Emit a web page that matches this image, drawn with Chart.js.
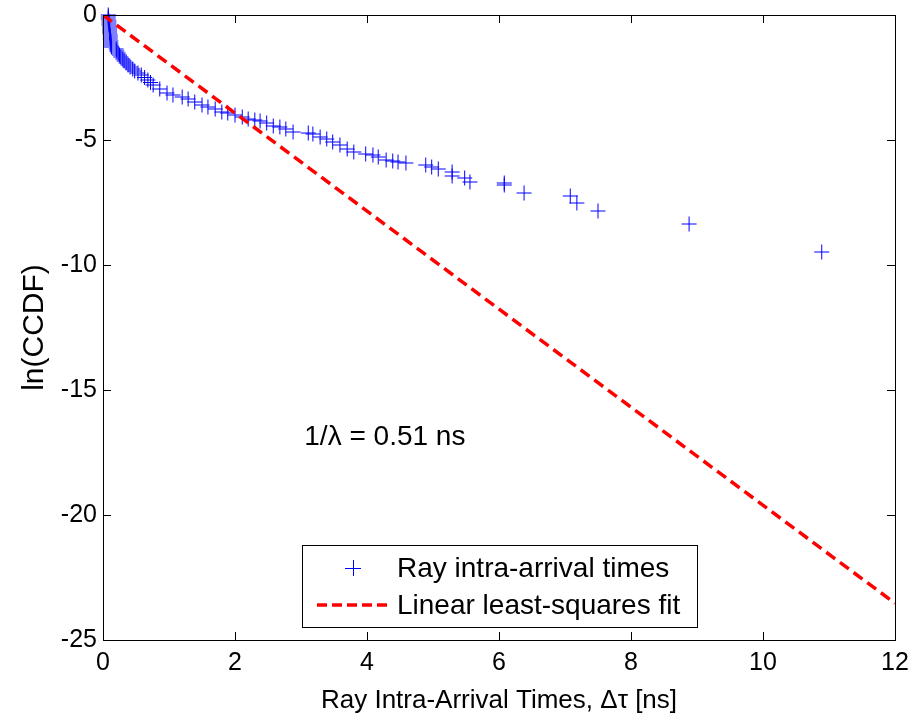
<!DOCTYPE html>
<html>
<head>
<meta charset="utf-8">
<script src="https://cdn.jsdelivr.net/npm/chart.js@4.4.1/dist/chart.umd.min.js"></script>
<style>
  html, body { margin: 0; padding: 0; background: #fff; }
  #wrap { width: 912px; height: 720px; }
</style>
</head>
<body>
<div id="wrap"><canvas id="chart" width="912" height="720"></canvas></div>
<script>
// ray intra-arrival times [ns] and ln(CCDF)
const rayTimes = [
  0.08, 0.08, 0.08, 0.09, 0.09, 0.09, 0.10, 0.10, 0.10, 0.10, 0.11, 0.11, 0.11, 0.12, 0.12, 0.12, 0.13,
  0.20, 0.21, 0.23, 0.25, 0.27, 0.30, 0.32, 0.35, 0.38, 0.41, 0.45, 0.48, 0.53, 0.58, 0.63, 0.68, 0.72,
  0.76, 0.86, 0.97, 1.06, 1.20, 1.29, 1.39, 1.50, 1.59, 1.70, 1.80, 1.89, 2.00, 2.11, 2.20, 2.30,
  2.38, 2.48, 2.58, 2.68, 2.77, 2.88, 3.11, 3.18, 3.29, 3.39, 3.48, 3.59, 3.70, 3.80, 3.98,
  4.09, 4.17, 4.29, 4.39, 4.47, 4.59, 4.89, 4.98, 5.08, 5.29, 5.29, 5.48, 5.56, 6.08, 6.08,
  6.38, 7.08, 7.18, 7.50, 8.88, 10.89
];
const rayLnCcdf = [
  0, -0.08, -0.16, -0.24, -0.32, -0.40, -0.48, -0.56, -0.64, -0.72, -0.80, -0.88, -0.96, -1.04, -1.12, -1.20, -1.28,
  -1.36, -1.44, -1.52, -1.60, -1.68, -1.76, -1.84, -1.92, -2.00, -2.08, -2.16, -2.24, -2.32, -2.40, -2.50, -2.60, -2.70,
  -2.80, -2.96, -3.12, -3.20, -3.28, -3.36, -3.48, -3.60, -3.68, -3.76, -3.88, -3.92, -4.00, -4.08, -4.16, -4.20,
  -4.24, -4.32, -4.44, -4.48, -4.56, -4.68, -4.72, -4.76, -4.88, -4.96, -5.08, -5.20, -5.36, -5.48, -5.56,
  -5.60, -5.68, -5.80, -5.84, -5.88, -5.92, -6.00, -6.08, -6.16, -6.28, -6.44, -6.52, -6.68, -6.72, -6.80,
  -7.12, -7.24, -7.52, -7.84, -8.36, -9.48
];

// linear least-squares fit, 1/lambda = 0.51 ns
const fitTimes = [0, 12];
const fitLnCcdf = [0, -23.53];

const xTicks = [0, 2, 4, 6, 8, 10, 12];
const yTicks = [-25, -20, -15, -10, -5, 0];

const seriesLabels = ["Ray intra-arrival times", "Linear least-squares fit"];
const noteText = "1/\u03bb = 0.51 ns";
const noteAt = { x: 3.05, y: -16.9 };

const tickFont = { family: '"Liberation Sans", Arial', size: 25 };

const frameAndTicks = {
  id: "frameAndTicks",
  afterDraw(chart) {
    const { ctx, chartArea: a, scales } = chart;
    ctx.save();
    ctx.strokeStyle = "#000";
    ctx.lineWidth = 1;
    ctx.strokeRect(Math.round(a.left) + 0.5, Math.round(a.top) + 0.5,
      Math.round(a.right - a.left), Math.round(a.bottom - a.top));
    const len = 8;
    ctx.beginPath();
    scales.x.ticks.forEach((t) => {
      const p = Math.round(scales.x.getPixelForValue(t.value)) + 0.5;
      ctx.moveTo(p, a.bottom); ctx.lineTo(p, a.bottom - len);
      ctx.moveTo(p, a.top); ctx.lineTo(p, a.top + len);
    });
    scales.y.ticks.forEach((t) => {
      const p = Math.round(scales.y.getPixelForValue(t.value)) + 0.5;
      ctx.moveTo(a.left, p); ctx.lineTo(a.left + len, p);
      ctx.moveTo(a.right, p); ctx.lineTo(a.right - len, p);
    });
    ctx.stroke();

    // text note
    ctx.fillStyle = "#000";
    ctx.font = '28px "Liberation Sans", Arial';
    ctx.textBaseline = "middle";
    ctx.textAlign = "left";
    ctx.fillText(noteText, scales.x.getPixelForValue(noteAt.x), scales.y.getPixelForValue(noteAt.y));

    // legend box
    const bx = 302, by = 545, bw = 395, bh = 82;
    ctx.fillStyle = "#fff";
    ctx.fillRect(bx, by, bw, bh);
    ctx.strokeStyle = "#000";
    ctx.strokeRect(bx + 0.5, by + 0.5, bw, bh);
    const row1 = by + 23, row2 = by + 60;
    ctx.strokeStyle = "#0000ff";
    ctx.lineWidth = 1;
    ctx.beginPath();
    ctx.moveTo(345, row1 + 0.5); ctx.lineTo(361, row1 + 0.5);
    ctx.moveTo(353.5, row1 - 8); ctx.lineTo(353.5, row1 + 8);
    ctx.stroke();
    ctx.strokeStyle = "#ff0000";
    ctx.lineWidth = 3.5;
    ctx.setLineDash([10, 5]);
    ctx.beginPath();
    ctx.moveTo(317, row2); ctx.lineTo(387, row2);
    ctx.stroke();
    ctx.setLineDash([]);
    ctx.fillStyle = "#000";
    ctx.font = '28px "Liberation Sans", Arial';
    ctx.fillText(seriesLabels[0], 397, row1 + 1);
    ctx.fillText(seriesLabels[1], 397, row2 + 1);
    ctx.restore();
  }
};

new Chart(document.getElementById("chart"), {
  type: "scatter",
  data: {
    datasets: [
      {
        label: seriesLabels[0],
        data: rayTimes.map((x, i) => ({ x, y: rayLnCcdf[i] })),
        pointStyle: "cross",
        pointRadius: 7.5,
        pointBorderWidth: 1,
        borderColor: "#0000ff",
        backgroundColor: "#0000ff",
        showLine: false,
        clip: false,
        order: 1
      },
      {
        type: "line",
        label: seriesLabels[1],
        data: fitTimes.map((x, i) => ({ x, y: fitLnCcdf[i] })),
        borderColor: "#ff0000",
        borderWidth: 3.5,
        borderDash: [11, 6],
        pointRadius: 0,
        fill: false,
        tension: 0,
        order: 0
      }
    ]
  },
  options: {
    responsive: false,
    animation: false,
    devicePixelRatio: 1,
    layout: { padding: { top: 15, right: 17, left: 0, bottom: 0 } },
    plugins: {
      legend: { display: false },
      tooltip: { enabled: false },
      title: { display: false }
    },
    scales: {
      x: {
        type: "linear",
        min: 0,
        max: 12,
        afterBuildTicks: (s) => { s.ticks = xTicks.map((v) => ({ value: v })); },
        afterFit: (s) => { s.height = 80; s.paddingLeft = 0; s.paddingRight = 0; },
        grid: { display: false, drawTicks: false },
        border: { display: false },
        ticks: { color: "#000", font: tickFont, padding: 8, maxRotation: 0 },
        title: {
          display: true,
          text: "Ray Intra-Arrival Times, \u0394\u03c4 [ns]",
          color: "#000",
          font: { family: '"Liberation Sans", Arial', size: 26 },
          padding: { top: 0, bottom: 4 }
        }
      },
      y: {
        type: "linear",
        min: -25,
        max: 0,
        afterBuildTicks: (s) => { s.ticks = yTicks.map((v) => ({ value: v })); },
        afterFit: (s) => { s.width = 103; s.paddingTop = 0; s.paddingBottom = 0; },
        grid: { display: false, drawTicks: false },
        border: { display: false },
        ticks: { color: "#000", font: tickFont, padding: 6 },
        title: {
          display: true,
          text: "ln(CCDF)",
          color: "#000",
          font: { family: '"Liberation Sans", Arial', size: 30 },
          padding: { top: 17, bottom: 0 }
        }
      }
    }
  },
  plugins: [frameAndTicks]
});
</script>
</body>
</html>
